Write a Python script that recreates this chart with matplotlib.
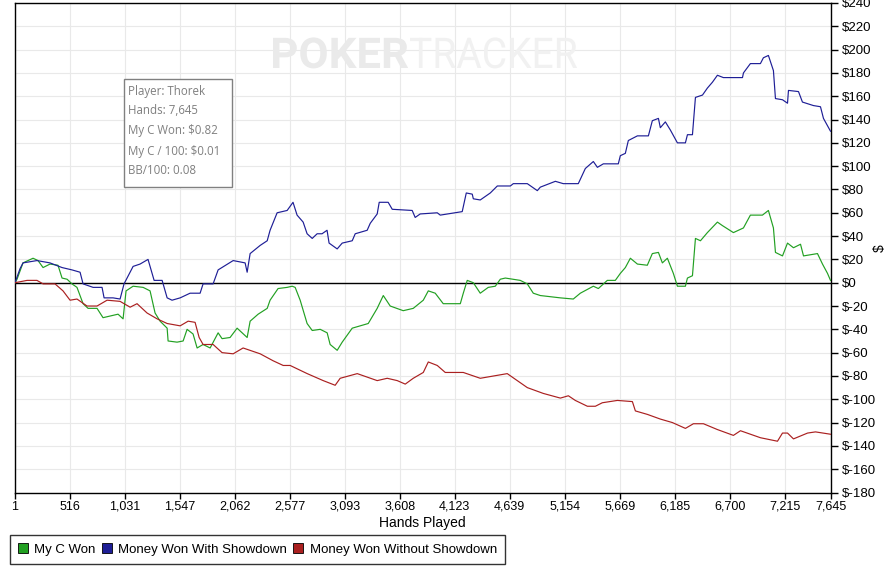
import matplotlib
matplotlib.use("Agg")
import matplotlib.pyplot as plt
from matplotlib.patches import Rectangle, Patch, PathPatch
from matplotlib.textpath import TextPath
from matplotlib.font_manager import FontProperties
from matplotlib.transforms import Affine2D

# ---------------- data ----------------
tick_hands = [1, 516, 1031, 1547, 2062, 2577, 3093, 3608, 4123, 4639, 5154, 5669, 6185, 6700, 7215, 7645]
tick_labels = ["1", "516", "1,031", "1,547", "2,062", "2,577", "3,093", "3,608", "4,123",
               "4,639", "5,154", "5,669", "6,185", "6,700", "7,215", "7,645"]
y_ticks = list(range(-180, 241, 20))

blue_hands = [1, 48, 76, 207, 329, 442, 535, 611, 639, 733, 817, 836, 920, 986, 1023, 1108, 1173, 1248,
              1305, 1380, 1427, 1473, 1549, 1642, 1736, 1764, 1858, 1905, 2046, 2158, 2177, 2205, 2299,
              2365, 2392, 2458, 2552, 2607, 2645, 2702, 2739, 2787, 2833, 2879, 2926, 2945, 3021, 3068,
              3162, 3190, 3302, 3331, 3396, 3415, 3499, 3537, 3724, 3752, 3799, 3959, 3987, 4193, 4231,
              4287, 4297, 4362, 4456, 4522, 4644, 4672, 4803, 4897, 4925, 5066, 5140, 5281, 5347, 5422,
              5460, 5516, 5656, 5675, 5722, 5750, 5835, 5938, 5975, 6032, 6050, 6097, 6144, 6210, 6285,
              6304, 6351, 6379, 6445, 6491, 6538, 6585, 6641, 6820, 6829, 6894, 6988, 7016, 7063, 7110,
              7129, 7195, 7242, 7251, 7345, 7382, 7485, 7551, 7579, 7645]
blue_vals = [0, 12, 17, 19, 17, 13, 11, 9, -1, -4, -4, -13, -13, -14, -1, 14, 16, 20,
             2, 2, -13, -15, -13, -9, -9, -1, -1, 11, 19, 17, 9, 25, 32,
             36, 45, 60, 62, 69, 58, 52, 42, 38, 42, 42, 45, 34, 29, 34,
             36, 42, 45, 51, 59, 69, 69, 63, 62, 56, 59, 60, 58, 61, 77,
             76, 72, 71, 77, 83, 83, 85, 85, 79, 82, 87, 85, 85, 98, 104,
             99, 102, 102, 109, 111, 122, 126, 126, 139, 141, 133, 138, 131, 120, 120,
             127, 127, 159, 161, 167, 172, 178, 176, 176, 180, 188, 188, 193, 195, 182,
             158, 157, 154, 165, 164, 155, 152, 151, 141, 130]

green_hands = [1, 20, 76, 170, 217, 264, 329, 404, 442, 489, 535, 582, 639, 686, 770, 826, 920, 967,
               1014, 1042, 1108, 1202, 1267, 1314, 1361, 1427, 1436, 1520, 1577, 1614, 1670, 1708, 1764,
               1830, 1905, 1942, 2017, 2083, 2177, 2205, 2280, 2365, 2392, 2467, 2552, 2599, 2627, 2674,
               2739, 2787, 2862, 2927, 2955, 3021, 3068, 3162, 3312, 3396, 3453, 3518, 3640, 3734, 3828,
               3875, 3940, 4015, 4175, 4203, 4240, 4297, 4362, 4437, 4503, 4550, 4597, 4737, 4803, 4859,
               4925, 5113, 5234, 5300, 5422, 5469, 5553, 5628, 5675, 5722, 5769, 5835, 5928, 5975, 6032,
               6069, 6116, 6172, 6210, 6285, 6304, 6351, 6379, 6426, 6491, 6585, 6632, 6735, 6829, 6894,
               7007, 7063, 7110, 7129, 7195, 7242, 7298, 7364, 7392, 7523, 7570, 7617, 7645]
green_vals = [0, 3, 17, 21, 19, 13, 16, 15, 4, 3, -1, -4, -18, -22, -22, -30, -28, -27,
              -31, -7, -3, -4, -7, -26, -33, -39, -50, -51, -50, -40, -44, -56, -53,
              -56, -43, -48, -47, -39, -47, -33, -27, -22, -15, -5, -4, -3, -4, -15,
              -35, -41, -40, -43, -53, -58, -51, -39, -35, -22, -11, -20, -24, -22, -15,
              -7, -9, -18, -18, -9, 2, 0, -9, -4, -3, 3, 4, 2, -1, -9,
              -11, -13, -14, -9, -3, -5, 2, 2, 8, 13, 21, 16, 15, 25, 26,
              17, 21, 8, -3, -3, 4, 6, 38, 36, 43, 52, 49, 43, 47, 58,
              58, 62, 47, 26, 23, 34, 30, 33, 23, 25, 16, 8, 2]

red_hands = [1, 114, 207, 264, 376, 451, 517, 582, 676, 770, 864, 986, 1080, 1145, 1239, 1333, 1427,
             1549, 1624, 1689, 1727, 1764, 1858, 1942, 2046, 2139, 2299, 2421, 2515, 2580, 2740, 2890,
             3002, 3049, 3209, 3396, 3490, 3584, 3659, 3734, 3828, 3875, 3959, 4034, 4203, 4362, 4615,
             4709, 4803, 4953, 5113, 5188, 5253, 5366, 5441, 5506, 5647, 5788, 5816, 5929, 6050, 6163,
             6285, 6360, 6454, 6585, 6735, 6801, 6988, 7148, 7195, 7242, 7298, 7430, 7504, 7645]
red_vals = [0, 2, 2, -1, -1, -7, -15, -14, -20, -20, -15, -16, -21, -18, -26, -31, -35,
            -37, -33, -34, -47, -53, -53, -60, -61, -56, -61, -67, -71, -71, -78, -84,
            -88, -82, -78, -84, -82, -84, -87, -82, -77, -68, -71, -77, -77, -82, -78,
            -84, -90, -95, -99, -97, -101, -106, -106, -103, -101, -102, -110, -113, -117, -120,
            -125, -121, -121, -126, -131, -127, -133, -136, -129, -129, -134, -129, -128, -130]

series_names = ["My C Won", "Money Won With Showdown", "Money Won Without Showdown"]
series_colors = ["#22a022", "#1e1e96", "#aa2020"]

info_lines = ["Player: Thorek", "Hands: 7,645", "My C Won: $0.82", "My C / 100: $0.01", "BB/100: 0.08"]

# ---------------- figure ----------------
W, H = 894, 572
fig = plt.figure(figsize=(W / 100, H / 100), dpi=100)
fig.patch.set_facecolor("white")

def fx(px):
    return px / W

def fy(py):
    return 1 - py / H

left, right, top, bottom = 15, 830.5, 3, 492.5
ax = fig.add_axes([fx(left), fy(bottom), fx(right) - fx(left), fy(top) - fy(bottom)])

tick_font = ["Liberation Sans Narrow", "Liberation Sans", "DejaVu Sans"]

ax.set_xlim(tick_hands[0], tick_hands[-1])
ax.set_ylim(-180, 240)
ax.set_xticks(tick_hands)
ax.set_xticklabels(tick_labels, family=tick_font, fontsize=9)
ax.yaxis.tick_right()
ax.set_yticks(y_ticks)
ax.set_yticklabels([f"${v}" for v in y_ticks], family=tick_font, fontsize=9.5)
ax.tick_params(axis="x", direction="out", length=4, width=1, pad=2, colors="black")
ax.tick_params(axis="y", direction="out", length=5, width=1, pad=3, colors="black")
ax.tick_params(axis="y", which="both", left=False)
for s in ax.spines.values():
    s.set_color("black")
    s.set_linewidth(1.0)

ax.grid(True, color="#e9e9e9", linewidth=0.8)
ax.set_axisbelow(True)
ax.axhline(0, color="black", linewidth=1.0, zorder=2)

ax.plot(green_hands, green_vals, color=series_colors[0], linewidth=0.85, zorder=3)
ax.plot(blue_hands, blue_vals, color=series_colors[1], linewidth=0.85, zorder=3)
ax.plot(red_hands, red_vals, color=series_colors[2], linewidth=0.85, zorder=3)

ax.set_xlabel("Hands Played", family=tick_font, fontsize=10, labelpad=2)
fig.text(fx(880), fy(248), "$", rotation=90, ha="center", va="center",
         family=tick_font, fontsize=10, color="black")


# watermark drawn as squeezed text paths (pixel coordinates)
def watermark(text, weight, x0, x1, base_y, cap_h, color):
    tp = TextPath((0, 0), text, size=40, prop=FontProperties(family="Roboto", weight=weight))
    bb = tp.get_extents()
    sx = (x1 - x0) / bb.width
    sy = cap_h / bb.height
    tr = Affine2D().translate(-bb.x0, 0).scale(sx, sy).translate(x0, H - base_y)
    p = PathPatch(tp, transform=tr, facecolor=color, edgecolor="none", zorder=1)
    fig.add_artist(p)


watermark("POKER", "bold", 273, 408, 68, 31, "#eaeaea")
watermark("TRACKER", "normal", 410, 577, 68, 31, "#f1f1f1")

# info box
fig.patches.append(Rectangle((fx(123.5), fy(187)), fx(232) - fx(123.5), fy(78.5) - fy(187),
                             transform=fig.transFigure, facecolor="white", edgecolor="#808080",
                             linewidth=1.0, zorder=5))
for i, line in enumerate(info_lines):
    fig.text(fx(128.5), fy(91 + 20 * i), line, ha="left", va="center", fontsize=8.3,
             family=["Open Sans", "DejaVu Sans"], color="#7f7f7f", zorder=6)

# legend
handles = [Patch(facecolor=c, edgecolor="black", linewidth=0.6) for c in series_colors]
leg = fig.legend(handles, series_names, loc="lower left",
                 bbox_to_anchor=(fx(10), fy(563.5), fx(505) - fx(10), fy(533.5) - fy(563.5)),
                 mode="expand", ncol=3, frameon=True, fancybox=False, borderaxespad=0,
                 handlelength=0.75, handleheight=0.75, handletextpad=0.5, columnspacing=1.5,
                 prop={"family": tick_font, "size": 9.5}, borderpad=0.6)
leg.get_frame().set_edgecolor("black")
leg.get_frame().set_linewidth(1.0)

fig.savefig("out.png", dpi=100, facecolor="white")
